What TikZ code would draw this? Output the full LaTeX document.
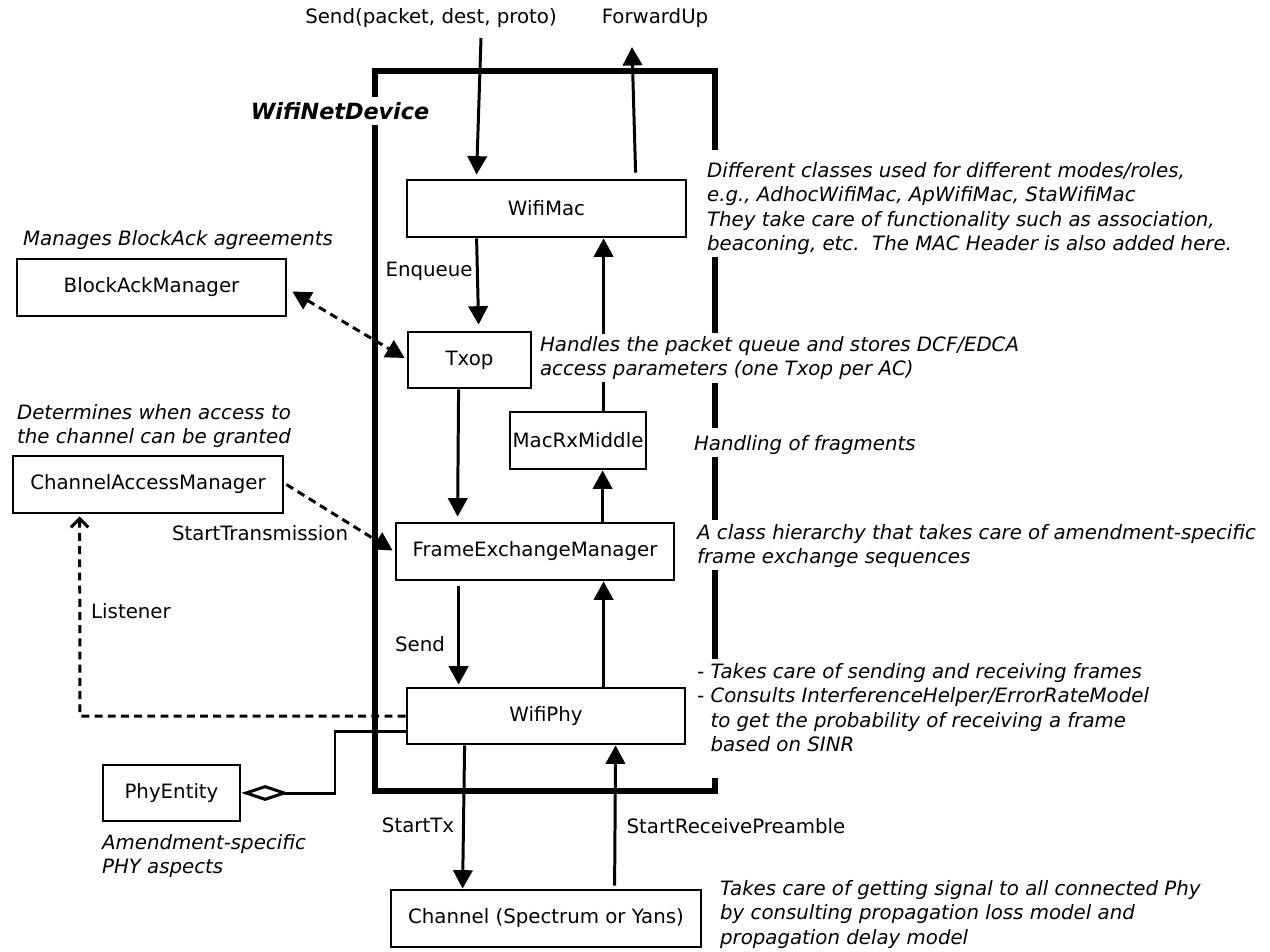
\documentclass[tikz,border=0pt]{standalone}
\usepackage{fontspec}
\setmainfont{DejaVu Sans}
\usetikzlibrary{arrows.meta,calc}
\newcommand\fsz{\fontsize{11.25}{14}\selectfont}
\begin{document}
\begin{tikzpicture}[x=0.02cm,y=-0.02cm,
  box/.style={draw, line width=1.6pt, fill=white, inner sep=0pt, font=\fsz},
  wh/.style 2 args={minimum width=#1*0.02cm, minimum height=#2*0.02cm},
  note/.style={font=\fsz\itshape, align=left, inner sep=1pt},
  lbl/.style={font=\fsz, inner sep=1pt},
  tip/.style={-{Triangle[length=10.5pt,width=11pt]}},
  conn/.style={line width=1.7pt, tip},
  dconn/.style={line width=1.7pt, dash pattern=on 4.5pt off 3pt},
  frame/.style={line width=3.8pt, line join=miter}]
\useasboundingbox (0,0) rectangle (1270,951);

% WifiNetDevice frame (with gaps where text crosses it)
\draw[frame] (375,97) -- (375,71) -- (715,71) -- (715,150);
\draw[frame] (715,257) -- (715,333);
\draw[frame] (715,383) -- (715,428);
\draw[frame] (715,457) -- (715,520);
\draw[frame] (715,570) -- (715,659);
\draw[frame] (715,778) -- (715,791) -- (375,791) -- (375,125);
\node[font=\fontsize{12.7}{15}\selectfont\bfseries\itshape, inner sep=0pt] (wnd) at (340,111) {WifiNetDevice};

% boxes
\node[box, wh={279}{57}] (wifimac) at (546.5,208.5) {WifiMac};
\node[box, wh={269}{57}] (bam) at (151.5,287.5) {BlockAckManager};
\node[box, wh={123}{56}] (txop) at (469.5,360) {Txop};
\node[box, wh={136}{57}] (macrx) at (578,440.5) {MacRxMiddle};
\node[box, wh={270}{57}] (cam) at (148,484.5) {ChannelAccessManager};
\node[box, wh={278}{57}] (fem) at (535,551.5) {FrameExchangeManager};
\node[box, wh={278}{56}] (wifiphy) at (546,716) {WifiPhy};
\node[box, wh={137}{56}] (phyent) at (171.5,793) {PhyEntity};
\node[box, wh={310}{57}] (channel) at (546,918.5) {Channel (Spectrum or Yans)};

% top texts and free ends
\node[lbl] (sendtxt) at (431,18) {Send(packet, dest, proto)};
\node[lbl] (fwdtxt) at (655,18) {ForwardUp};
\coordinate (sendtop) at (481,38);
\coordinate (fwdtop) at (632,47);

% solid connectors
\draw[conn] (sendtop) -- ($(wifimac.north west)+(71,-4)$);
\draw[conn] ($(wifimac.north west)+(230,-6)$) -- (fwdtop);
\draw[conn] ($(wifimac.south west)+(71,0)$) -- ($(txop.north west)+(72,-6)$);
\draw[conn] ($(macrx.north west)+(95,0)$) -- ($(wifimac.south west)+(198,0)$);
\draw[conn] ($(txop.south west)+(52,0)$) -- ($(fem.north west)+(63,-5)$);
\draw[conn] ($(fem.north west)+(208,0)$) -- ($(macrx.south west)+(94,0)$);
\draw[conn] ($(fem.south west)+(64,5)$) -- ($(wifiphy.north west)+(53,-2)$);
\draw[conn] ($(wifiphy.north west)+(198,0)$) -- ($(fem.south west)+(209,0)$);
\draw[conn] ($(wifiphy.south west)+(59,0)$) -- ($(channel.north west)+(73,0)$);
\draw[conn] ($(channel.north west)+(225,-3)$) -- ($(wifiphy.south west)+(210,0)$);

% dashed connectors
\draw[dconn, {Triangle[length=10.5pt,width=11pt]}-{Triangle[length=10.5pt,width=11pt]}]
  ($(bam.east)+(5,4)$) -- ($(txop.west)+(-2,-2)$);
\draw[dconn, -{Triangle[length=10.5pt,width=11pt]}]
  ($(cam.east)+(2,0)$) -- ($(fem.west)+(-2,-1)$);
\draw[dconn, -{Straight Barb[length=5pt,width=10pt,line width=1.7pt]}]
  (wifiphy.west) -- (80,716) -- ($(cam.south west)+(68,2)$);
\draw[line width=1.7pt, -{Diamond[open,length=27pt,width=9pt]}]
  ($(wifiphy.west)+(0,15)$) -- (335,731) |- (phyent.east);

% connector labels
\node[lbl] (enq) at (429,271) {Enqueue};
\node[lbl] (sendl) at (420,644) {Send};
\node[lbl] (stx) at (418,825) {StartTx};
\node[lbl] (srp) at (736,826) {StartReceivePreamble};
\node[lbl] (lis) at (131,611) {Listener};
\node[lbl] (strans) at (260,533) {StartTransmission};

% annotations
\node[note, anchor=north west] (n1) at (705,160) {Different classes used for different modes/roles,\\e.g., AdhocWifiMac, ApWifiMac, StaWifiMac\\They take care of functionality such as association,\\beaconing, etc.\ \ The MAC Header is also added here.};
\node[note, anchor=north west, fill=white] (n2) at (538,334) {Handles the packet queue and stores DCF/EDCA\\access parameters (one Txop per AC)};
\node[note, anchor=west] (n3) at (692,445) {Handling of fragments};
\node[note, anchor=north west] (n4) at (695,522) {A class hierarchy that takes care of amendment-specific\\frame exchange sequences};
\node[note, anchor=north west] (n5) at (695,661) {- Takes care of sending and receiving frames\\- Consults InterferenceHelper/ErrorRateModel\\\phantom{- }to get the probability of receiving a frame\\\phantom{- }based on SINR};
\node[note, anchor=north west] (n6) at (718,878) {Takes care of getting signal to all connected Phy\\by consulting propagation loss model and\\propagation delay model};
\node[note] (n7) at (178,240) {Manages BlockAck agreements};
\node[note, anchor=north west] (n8) at (15,402) {Determines when access to\\the channel can be granted};
\node[note, anchor=north west] (n9) at (100,832) {Amendment-specific\\PHY aspects};
\end{tikzpicture}
\end{document}
